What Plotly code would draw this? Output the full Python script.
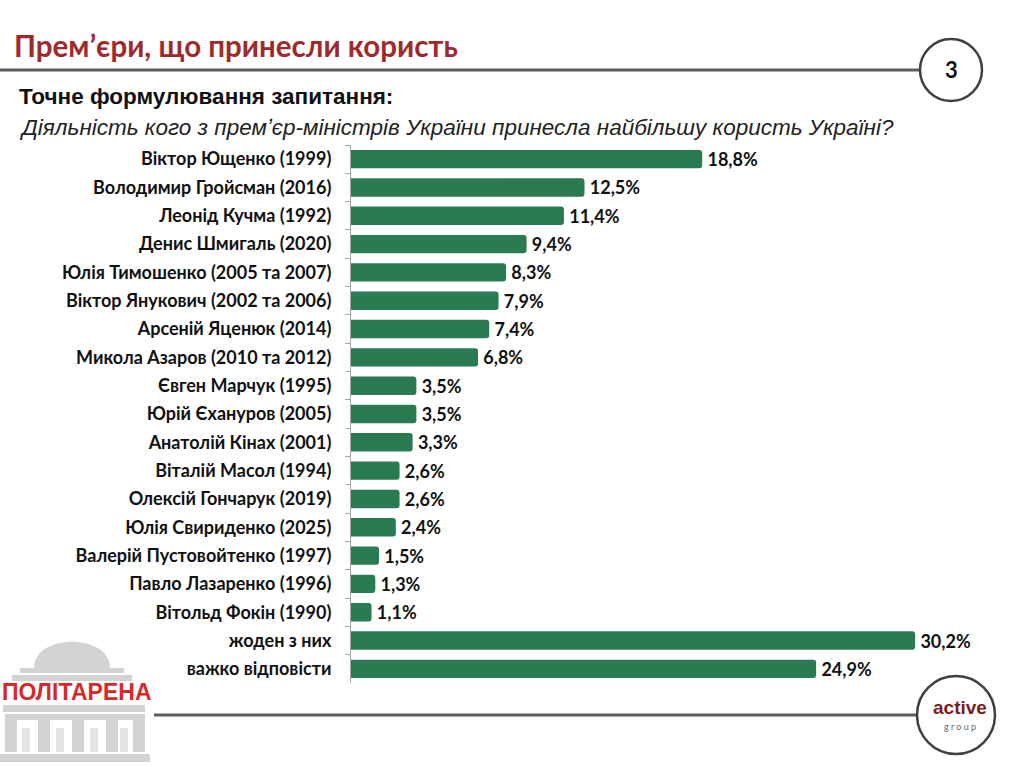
import plotly.graph_objects as go

categories = [
    "Віктор Ющенко (1999)",
    "Володимир Гройсман (2016)",
    "Леонід Кучма (1992)",
    "Денис Шмигаль (2020)",
    "Юлія Тимошенко (2005 та 2007)",
    "Віктор Янукович (2002 та 2006)",
    "Арсеній Яценюк (2014)",
    "Микола Азаров (2010 та 2012)",
    "Євген Марчук (1995)",
    "Юрій Єхануров (2005)",
    "Анатолій Кінах (2001)",
    "Віталій Масол (1994)",
    "Олексій Гончарук (2019)",
    "Юлія Свириденко (2025)",
    "Валерій Пустовойтенко (1997)",
    "Павло Лазаренко (1996)",
    "Вітольд Фокін (1990)",
    "жоден з них",
    "важко відповісти",
]
values = [18.8, 12.5, 11.4, 9.4, 8.3, 7.9, 7.4, 6.8, 3.5, 3.5, 3.3, 2.6, 2.6, 2.4, 1.5, 1.3, 1.1, 30.2, 24.9]
value_labels = ["\u2009" + f"{v:.1f}".replace(".", ",") + "%" for v in values]

title_text = "Прем\u02bcєри, що принесли користь"
subtitle_text = "Точне формулювання запитання:"
question_text = "Діяльність кого з прем\u02bcєр-міністрів України принесла найбільшу користь Україні?"

W, H = 1024, 766
ML, MR, MT, MB = 351, 22, 145, 83
PW, PH = W - ML - MR, H - MT - MB

def px(x):
    return (x - ML) / PW

def py(y):
    return 1 - (y - MT) / PH

BAR = "#2a7a52"
LABEL_FONT = "Lato, Open Sans, sans-serif"
ARIAL = "Liberation Sans, Arial, sans-serif"
NARROW = "Liberation Sans Narrow, Arial Narrow, Liberation Sans, sans-serif"

fig = go.Figure(go.Bar(
    x=values, y=categories, orientation="h",
    marker=dict(color=BAR, line=dict(width=0), cornerradius=3),
    text=value_labels, textposition="outside", cliponaxis=False, constraintext="none",
    textfont=dict(family=LABEL_FONT, size=18, color="#111111", weight="bold"),
    hoverinfo="skip",
))

shapes = []
def rect(x0, y0, x1, y1, color, layer="below"):
    shapes.append(dict(type="rect", xref="paper", yref="paper",
                       x0=px(x0), x1=px(x1), y0=py(y1), y1=py(y0),
                       fillcolor=color, line=dict(width=0), layer=layer))

# header line and circle
shapes.append(dict(type="line", xref="paper", yref="paper", x0=px(0), x1=px(919), y0=py(70), y1=py(70),
                   line=dict(color="#5c5c5c", width=3)))
shapes.append(dict(type="circle", xref="paper", yref="paper", x0=px(920), x1=px(982), y0=py(101), y1=py(39),
                   line=dict(color="#404040", width=2.5), fillcolor="white"))
# footer line and circle
shapes.append(dict(type="line", xref="paper", yref="paper", x0=px(154), x1=px(918), y0=py(715), y1=py(715),
                   line=dict(color="#5c5c5c", width=3)))
shapes.append(dict(type="circle", xref="paper", yref="paper", x0=px(917), x1=px(995), y0=py(754), y1=py(676),
                   line=dict(color="#404040", width=2.5), fillcolor="white"))

# building logo (decorative)
G = "#d3d3d3"
shapes.append(dict(type="path", xref="paper", yref="paper",
                   path=f"M {px(34)} {py(668)} C {px(34)} {py(633)}, {px(110)} {py(633)}, {px(110)} {py(668)} Z",
                   fillcolor=G, line=dict(width=0), layer="below"))
rect(20, 668, 124, 673, G)
rect(12, 675, 132, 681, G)
rect(3, 705, 145, 712, G)
rect(5, 714, 145, 720, G)
for x0 in (5, 38, 72, 106, 133):
    rect(x0, 720, x0 + 12, 752, G)
for x0 in (22, 56, 90, 120):
    rect(x0, 728, x0 + 8, 752, "#e4e4e4")
rect(0, 754, 150, 762, G)

annotations = [
    dict(text=title_text, x=px(12), y=py(45), xref="paper", yref="paper", xanchor="left", yanchor="middle",
         showarrow=False, font=dict(family=LABEL_FONT, size=29.5, color="#9e2b2b", weight="bold")),
    dict(text="3", x=px(951), y=py(70), xref="paper", yref="paper", xanchor="center", yanchor="middle",
         showarrow=False, font=dict(family=LABEL_FONT, size=22, color="#111111", weight="bold")),
    dict(text=subtitle_text, x=px(17), y=py(97), xref="paper", yref="paper", xanchor="left", yanchor="middle",
         showarrow=False, font=dict(family=ARIAL, size=22.5, color="#111111", weight="bold")),
    dict(text=question_text, x=px(17), y=py(128), xref="paper", yref="paper", xanchor="left", yanchor="middle",
         showarrow=False, font=dict(family=ARIAL, size=22.5, color="#222222", style="italic")),
    dict(text="ПОЛІТАРЕНА", x=px(77), y=py(692), xref="paper", yref="paper", xanchor="center", yanchor="middle",
         showarrow=False, font=dict(family=NARROW, size=23, color="#d42a2a", weight="bold")),
    dict(text="active", x=px(960), y=py(707), xref="paper", yref="paper", xanchor="center", yanchor="middle",
         showarrow=False, font=dict(family=NARROW, size=19, color="#7d1c1c", weight="bold")),
    dict(text="g r o u p", x=px(960), y=py(726), xref="paper", yref="paper", xanchor="center", yanchor="middle",
         showarrow=False, font=dict(family=LABEL_FONT, size=9, color="#666666")),
]

fig.update_layout(
    width=W, height=H,
    margin=dict(l=ML, r=MR, t=MT, b=MB, autoexpand=False),
    paper_bgcolor="white", plot_bgcolor="white",
    bargap=0.35, showlegend=False,
    shapes=shapes, annotations=annotations,
    xaxis=dict(range=[0, PW / 18.68], visible=False, fixedrange=True),
    yaxis=dict(autorange="reversed", showline=True, linecolor="#a6a6a6", linewidth=1,
               ticks="outside", tickson="boundaries", ticklen=5, tickcolor="#a6a6a6",
               ticklabelstandoff=15, showgrid=False, fixedrange=True,
               tickfont=dict(family=LABEL_FONT, size=18, color="#111111", weight="bold")),
)

fig.write_html("out.html", config={"displayModeBar": False},
               post_script="document.body.style.margin='0px';document.body.style.overflow='hidden';")
